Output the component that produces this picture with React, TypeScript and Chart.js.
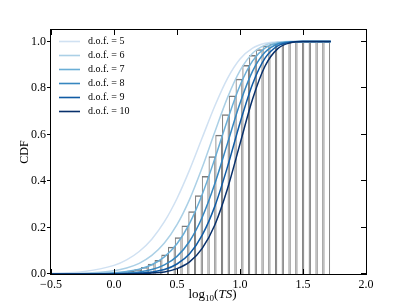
import React, { useEffect, useRef } from "react";
import { Chart, registerables } from "chart.js";
Chart.register(...registerables);

const FONT = "'Liberation Serif', 'Times New Roman', serif";

// x positions (log10 TS) at which the CDF curves are sampled
const curveX = [-0.5, -0.25, 0.0, 0.1, 0.2, 0.3, 0.4, 0.5, 0.6, 0.7, 0.8, 0.9, 1.0, 1.1, 1.2, 1.3, 1.4, 1.5, 1.72];
const dof5 = [0.003, 0.010, 0.037, 0.061, 0.097, 0.150, 0.225, 0.325, 0.448, 0.586, 0.723, 0.841, 0.925, 0.972, 0.993, 0.999, 1.0, 1.0, 1.0];
const dof6 = [0.001, 0.003, 0.014, 0.026, 0.046, 0.080, 0.133, 0.212, 0.321, 0.458, 0.611, 0.758, 0.875, 0.950, 0.985, 0.997, 1.0, 1.0, 1.0];
const dof7 = [0.0, 0.001, 0.005, 0.011, 0.021, 0.040, 0.074, 0.130, 0.218, 0.342, 0.496, 0.662, 0.811, 0.917, 0.973, 0.994, 0.999, 1.0, 1.0];
const dof8 = [0.0, 0.0, 0.002, 0.004, 0.009, 0.019, 0.039, 0.076, 0.141, 0.244, 0.388, 0.561, 0.735, 0.873, 0.955, 0.990, 0.999, 1.0, 1.0];
const dof9 = [0.0, 0.0, 0.001, 0.001, 0.004, 0.009, 0.019, 0.043, 0.087, 0.167, 0.291, 0.460, 0.650, 0.818, 0.930, 0.982, 0.997, 1.0, 1.0];
const dof10 = [0.0, 0.0, 0.0, 0.001, 0.001, 0.004, 0.009, 0.023, 0.052, 0.110, 0.211, 0.366, 0.560, 0.753, 0.896, 0.970, 0.995, 1.0, 1.0];
const dofSeries = [dof5, dof6, dof7, dof8, dof9, dof10];
const dofLabels = ["d.o.f. = 5", "d.o.f. = 6", "d.o.f. = 7", "d.o.f. = 8", "d.o.f. = 9", "d.o.f. = 10"];
const dofColors = ["#d0e1f2", "#abd0e6", "#6aaed6", "#3787c0", "#105ba4", "#08306b"];

// cumulative histogram: bin centres and heights
const histCenters = [0.0268, 0.0804, 0.1340, 0.1876, 0.2412, 0.2948, 0.3484, 0.4020, 0.4556, 0.5092, 0.5628, 0.6164, 0.6700, 0.7236, 0.7772, 0.8308, 0.8844, 0.9380, 0.9916, 1.0452, 1.0988, 1.1524, 1.2060, 1.2596, 1.3132, 1.3668, 1.4204, 1.4740, 1.5276, 1.5812, 1.6348, 1.6884];
const histHeights = [0.004, 0.008, 0.013, 0.020, 0.030, 0.044, 0.060, 0.084, 0.117, 0.158, 0.209, 0.270, 0.339, 0.422, 0.507, 0.599, 0.687, 0.768, 0.840, 0.899, 0.942, 0.967, 0.983, 0.993, 0.998, 1.0, 1.0, 1.0, 1.0, 1.0, 1.0, 1.0];

const xTicks = [-0.5, 0.0, 0.5, 1.0, 1.5, 2.0];
const yTicks = [0.0, 0.2, 0.4, 0.6, 0.8, 1.0];

const decorPlugin = {
  id: "decor",
  afterDraw(chart: any) {
    const { ctx, chartArea } = chart;
    const { left, right, top, bottom } = chartArea;
    const xs = chart.scales.x;
    const ys = chart.scales.y;
    ctx.save();
    // frame
    ctx.strokeStyle = "#000";
    ctx.lineWidth = 1;
    ctx.strokeRect(left - 0.5, top - 0.5, right - left + 1, bottom - top + 1);
    // ticks
    ctx.beginPath();
    xs.ticks.forEach((t: any) => {
      const px = Math.round(xs.getPixelForValue(t.value)) + 0.5;
      ctx.moveTo(px, bottom);
      ctx.lineTo(px, bottom - 5);
      ctx.moveTo(px, top);
      ctx.lineTo(px, top + 5);
    });
    ys.ticks.forEach((t: any) => {
      const py = Math.round(ys.getPixelForValue(t.value)) - 0.5;
      ctx.moveTo(left - 4, py);
      ctx.lineTo(left, py);
      ctx.moveTo(right, py);
      ctx.lineTo(right - 5, py);
    });
    ctx.stroke();

    // legend
    const lines = chart.data.datasets.filter((d: any) => d.type === "line");
    ctx.font = `10px ${FONT}`;
    ctx.textBaseline = "middle";
    ctx.textAlign = "left";
    lines.forEach((d: any, i: number) => {
      const y = top + 11.5 + 14 * i;
      ctx.strokeStyle = d.borderColor;
      ctx.lineWidth = 1.6;
      ctx.beginPath();
      ctx.moveTo(left + 8, y);
      ctx.lineTo(left + 29, y);
      ctx.stroke();
      ctx.fillStyle = "#000";
      ctx.fillText(d.label, left + 37, y);
    });

    // x axis title: log10(TS)
    const parts = [
      { t: "log", f: `13px ${FONT}`, dy: 0 },
      { t: "10", f: `9px ${FONT}`, dy: 3 },
      { t: "(", f: `13px ${FONT}`, dy: 0 },
      { t: "TS", f: `italic 13px ${FONT}`, dy: 0 },
      { t: ")", f: `13px ${FONT}`, dy: 0 },
    ];
    let total = 0;
    parts.forEach((p) => {
      ctx.font = p.f;
      total += ctx.measureText(p.t).width;
    });
    let cx = (left + right) / 2 + 4 - total / 2;
    const base = 298;
    ctx.textBaseline = "alphabetic";
    ctx.fillStyle = "#000";
    parts.forEach((p) => {
      ctx.font = p.f;
      ctx.fillText(p.t, cx, base + p.dy);
      cx += ctx.measureText(p.t).width;
    });
    ctx.restore();
  },
};

export default function App() {
  const ref = useRef<HTMLCanvasElement | null>(null);
  useEffect(() => {
    if (!ref.current) return;
    const datasets: any[] = [
      {
        type: "bar",
        label: "histogram",
        data: histCenters.map((c, i) => ({ x: c, y: histHeights[i] })),
        backgroundColor: "rgba(0,0,0,0)",
        borderColor: "#7a7a7a",
        borderWidth: { top: 1.5, left: 1, right: 1, bottom: 0 },
        borderSkipped: false,
        inflateAmount: 0,
        barPercentage: 1,
        categoryPercentage: 1,
        order: 10,
      },
    ];
    dofSeries.forEach((s, i) => {
      datasets.push({
        type: "line",
        label: dofLabels[i],
        data: curveX.map((x, j) => ({ x, y: s[j] })),
        borderColor: dofColors[i],
        borderWidth: 1.5,
        pointRadius: 0,
        fill: false,
        cubicInterpolationMode: "monotone",
        order: 6 - i,
      });
    });
    const chart = new Chart(ref.current, {
      type: "bar",
      data: { datasets },
      options: {
        animation: false,
        responsive: false,
        devicePixelRatio: 1,
        layout: { padding: { top: 30, right: 41, left: 0, bottom: 0 } },
        plugins: { legend: { display: false }, tooltip: { enabled: false } },
        scales: {
          x: {
            type: "linear",
            offset: false,
            min: -0.5,
            max: 2.0,
            afterBuildTicks: (s: any) => {
              s.ticks = xTicks.map((v) => ({ value: v }));
            },
            ticks: {
              callback: (v: any) => {
                const n = Number(v);
                const s = Math.abs(n).toFixed(1);
                return n < 0 ? "\u2212" + s : s;
              },
              font: { family: FONT, size: 12 },
              color: "#000",
              padding: 4,
              maxRotation: 0,
              autoSkip: false,
            },
            grid: { display: false, drawTicks: false },
            border: { display: false },
            afterFit: (s: any) => {
              s.height = 31;
            },
          },
          y: {
            type: "linear",
            min: 0,
            max: 1.05,
            afterBuildTicks: (s: any) => {
              s.ticks = yTicks.map((v) => ({ value: v }));
            },
            ticks: {
              callback: (v: any) => Number(v).toFixed(1),
              font: { family: FONT, size: 12 },
              color: "#000",
              padding: 5,
              autoSkip: false,
            },
            grid: { display: false, drawTicks: false },
            border: { display: false },
            title: {
              display: true,
              text: "CDF",
              font: { family: FONT, size: 12 },
              color: "#000",
              padding: { top: 18, bottom: 0 },
            },
            afterFit: (s: any) => {
              s.width = 51;
            },
          },
        },
      },
      plugins: [decorPlugin],
    } as any);
    return () => chart.destroy();
  }, []);
  return (
    <div style={{ position: "absolute", left: 0, top: 0, width: 407, height: 305, background: "#fff" }}>
      <canvas ref={ref} width={407} height={305} style={{ display: "block", width: 407, height: 305 }} />
    </div>
  );
}
